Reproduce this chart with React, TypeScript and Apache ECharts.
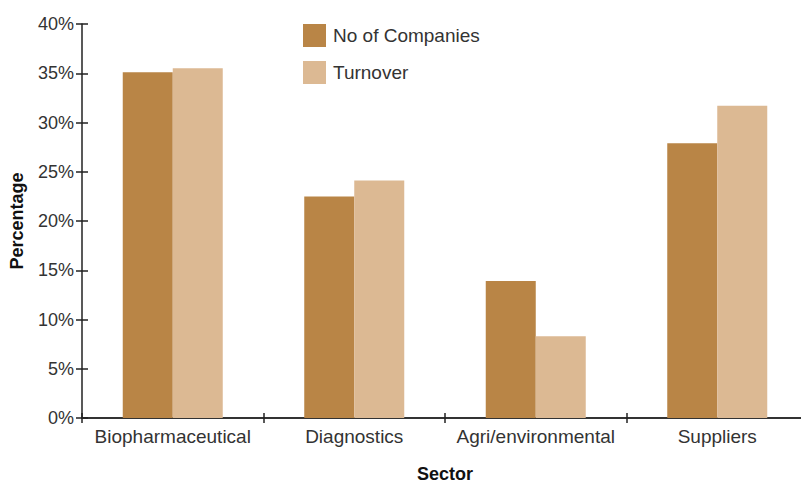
import React, { useEffect, useRef } from "react";
import * as echarts from "echarts";

const categories = ["Biopharmaceutical", "Diagnostics", "Agri/environmental", "Suppliers"];
const companies = [35.1, 22.5, 13.9, 27.9];
const turnover = [35.5, 24.1, 8.3, 31.7];
const seriesNames = ["No of Companies", "Turnover"];
const colors = ["#B98546", "#DCB993"];

const FONT = "'Liberation Sans', Arial, sans-serif";

export default function App() {
  const ref = useRef<HTMLDivElement>(null);
  useEffect(() => {
    if (!ref.current) return;
    const chart = echarts.init(ref.current, null, { renderer: "svg" });
    const yBase = {
      type: "value",
      min: 0,
      max: 40,
      interval: 5,
      splitLine: { show: false },
    };
    chart.setOption({
      animation: false,
      textStyle: { fontFamily: FONT },
      grid: { left: 82, top: 24, bottom: 68, right: -7, outerBoundsMode: "none" },
      legend: {
        orient: "vertical",
        left: 303,
        top: 24,
        padding: 0,
        itemWidth: 23,
        itemHeight: 23,
        itemGap: 14,
        icon: "rect",
        textStyle: { fontSize: 19, color: "#333", fontFamily: FONT, padding: [0, 0, 0, 2] },
        data: seriesNames,
      },
      xAxis: [
        {
          type: "category",
          data: categories,
          name: "Sector",
          nameLocation: "middle",
          nameGap: 47,
          nameTextStyle: { fontSize: 18, fontWeight: "bold", color: "#111", fontFamily: FONT },
          axisLine: { lineStyle: { color: "#333", width: 2 } },
          axisTick: { show: true, length: 5, lineStyle: { color: "#222", width: 1.5 } },
          axisLabel: { interval: 0, fontSize: 19, color: "#333", margin: 9, fontFamily: FONT },
        },
        {
          type: "category",
          data: categories,
          position: "bottom",
          axisLine: { show: false },
          axisTick: { show: true, inside: true, length: 5, lineStyle: { color: "#222", width: 1.5 } },
          axisLabel: { show: false },
        },
      ],
      yAxis: [
        {
          ...yBase,
          name: "Percentage",
          nameLocation: "middle",
          nameGap: 56,
          nameTextStyle: { fontSize: 18, fontWeight: "bold", color: "#111", fontFamily: FONT },
          axisLine: { show: true, lineStyle: { color: "#222", width: 1.5 } },
          axisTick: { show: true, length: 6, lineStyle: { color: "#222", width: 1.5 } },
          axisLabel: { fontSize: 18, color: "#333", margin: 8, formatter: "{value}%", fontFamily: FONT },
        },
        {
          ...yBase,
          position: "left",
          axisLine: { show: false },
          axisTick: { show: true, inside: true, length: 6, lineStyle: { color: "#222", width: 1.5 } },
          axisLabel: { show: false },
        },
      ],
      series: [
        {
          name: seriesNames[0],
          type: "bar",
          data: companies,
          barWidth: 50,
          barGap: "0%",
          itemStyle: { color: colors[0] },
        },
        {
          name: seriesNames[1],
          type: "bar",
          data: turnover,
          barWidth: 50,
          barGap: "0%",
          itemStyle: { color: colors[1] },
        },
      ],
    });
    return () => chart.dispose();
  }, []);
  return <div ref={ref} style={{ width: 801, height: 486, position: "absolute", left: 0, top: 0 }} />;
}
